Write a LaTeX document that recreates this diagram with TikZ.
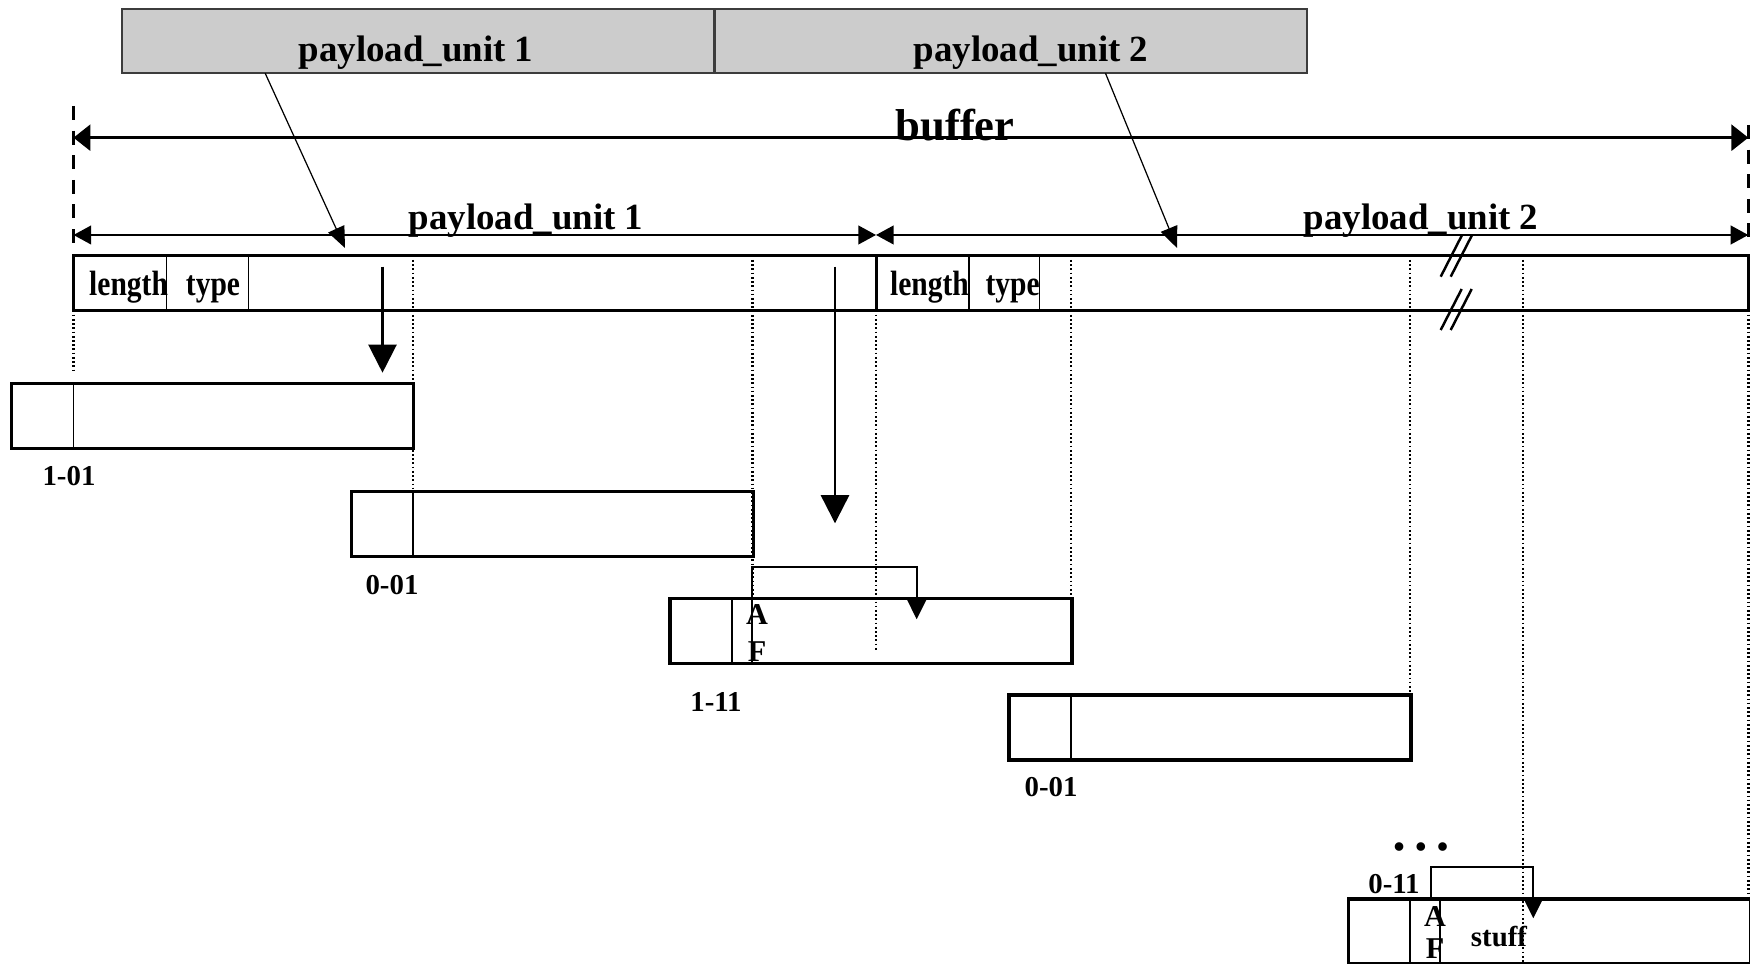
\documentclass[tikz,border=0pt]{standalone}
\usepackage{fontspec}
\setmainfont{Liberation Serif}
\usepackage{graphicx}
\usetikzlibrary{arrows.meta,calc,positioning}
\definecolor{UnitGray}{RGB}{204,204,204}
\definecolor{EdgeGray}{RGB}{60,60,60}
\newcommand{\narrowtxt}[1]{\scalebox{0.84}[1]{#1}}

\begin{document}
\begin{tikzpicture}[x=0.1mm,y=-0.1mm,
  unitbox/.style={draw=EdgeGray,fill=UnitGray,line width=0.5pt,anchor=north west,inner sep=0pt,outer sep=0pt,minimum width=59.25mm,minimum height=6.43mm},
  barbox/.style={draw,line width=0.85pt,anchor=north west,inner sep=0pt,outer sep=0pt,minimum height=5.45mm},
  pktbox/.style={draw,line width=0.9pt,anchor=north west,inner sep=0pt,outer sep=0pt,minimum width=40.2mm,minimum height=6.5mm},
  cellline/.style={line width=0.5pt},
  guideline/.style={line width=0.7pt,dash pattern=on 0.5pt off 0.7pt},
  boundline/.style={line width=1pt,dash pattern=on 4pt off 3pt},
  dimline/.style={line width=0.55pt,{Triangle[length=5pt,width=5.3pt]}-{Triangle[length=5pt,width=5.3pt]}},
  bufline/.style={line width=0.7pt,{Triangle[length=4.8pt,width=7.4pt]}-{Triangle[length=4.8pt,width=7.4pt]}},
  feedline/.style={line width=0.35pt,-{Triangle[length=6pt,width=5pt]}},
  droparrow/.style={line width=0.65pt,-{Triangle[length=8pt,width=8pt]}},
  hoparrow/.style={line width=0.55pt,-{Triangle[length=5.6pt,width=5.4pt]}},
  breakmark/.style={line width=0.7pt},
  buftext/.style={font=\bfseries\fontsize{12.7}{15}\selectfont,inner sep=0pt,anchor=base},
  unittext/.style={font=\bfseries\fontsize{10.5}{12}\selectfont,inner sep=0pt,anchor=base},
  fieldtext/.style={font=\bfseries\fontsize{10}{12}\selectfont,inner sep=0pt,anchor=base},
  tagtext/.style={font=\bfseries\fontsize{8.2}{10}\selectfont,inner sep=0pt,anchor=base},
  aftext/.style={font=\bfseries\fontsize{8.6}{10}\selectfont,inner sep=0pt,anchor=base}]
\useasboundingbox (0,0) rectangle (1750,964);

% source payload units
\node[unitbox] (gu1) at (121.7,9) {};
\node[unitbox] (gu2) at (714.7,9) {};
\node[unittext] (gu1t) at (416,61.7) {payload\_unit 1};
\node[unittext] (gu2t) at (1031,62) {payload\_unit 2};

% buffer extent
\draw[boundline] (73.5,106) -- (73.5,247);
\draw[boundline] (1748.3,125) -- (1748.3,247);
\coordinate (bufL) at (73.5,137.7);
\coordinate (bufR) at (1748.3,137.7);
\draw[bufline] (bufL) -- (bufR);
\node[buftext] (buf) at (955,141) {buffer};

\coordinate (pu1L) at (73.5,235);
\coordinate (pu1R) at (876,235);
\coordinate (pu2R) at (1748.3,235);
\draw[dimline] (pu1L) -- (pu1R);
\draw[dimline] (pu1R) -- (pu2R);
\node[unittext] (pu1t) at (526,230) {payload\_unit 1};
\node[unittext] (pu2t) at (1421,230) {payload\_unit 2};

% buffer bar
\node[barbox,minimum width=80.25mm] (bar1) at (73.5,256) {};
\node[barbox,minimum width=87.23mm] (bar2) at (876,256) {};
\foreach \x in {166.5,248.6,968.8,1039.4}
  \draw[cellline] (\x,256) -- (\x,310.5);
\node[fieldtext] (len1) at (128.6,296) {\narrowtxt{length}};
\node[fieldtext] (typ1) at (213,296) {\narrowtxt{type}};
\node[fieldtext] (len2) at (929.5,296) {\narrowtxt{length}};
\node[fieldtext] (typ2) at (1012.7,296) {\narrowtxt{type}};
\foreach \y in {0,53.3} {
  \draw[breakmark] (1440.7,276.7+\y) -- (1461.7,235.7+\y);
  \draw[breakmark] (1450.7,276.7+\y) -- (1471.7,235.7+\y);
}

% guides
\draw[guideline] (73.5,310.5) -- (73.5,370);
\draw[guideline] (413,260) -- (413,491.7);
\draw[guideline] (752.6,260) -- (752.6,598);
\draw[guideline] (876,310.5) -- (876,651.7);
\draw[guideline] (1071,260) -- (1071,598.3);
\draw[guideline] (1410,260) -- (1410,695);
\draw[guideline] (1523,260) -- (1523,964);
\draw[guideline] (1748.3,310.5) -- (1748.3,899);

% packets
\node[pktbox] (p1) at (11.5,383.3) {};
\node[pktbox] (p2) at (351.3,491.7) {};
\node[pktbox] (p3) at (670,598.3) {};
\node[pktbox] (p4) at (1009,695) {};
\node[pktbox] (p5) at (1348.3,899) {};
\foreach \p in {p1,p2,p3,p4,p5}
  \draw[cellline] ($(\p.north west)+(62,0)$) -- ($(\p.south west)+(62,0)$);
\draw[cellline] ($(p3.north west)+(82.3,0)$) -- ($(p3.south west)+(82.3,0)$);
\draw[cellline] ($(p5.north west)+(91.7,0)$) -- ($(p5.south west)+(91.7,0)$);

\node[tagtext] (t1) at (69,486) {1-01};
\node[tagtext] (t2) at (392,595) {0-01};
\node[tagtext] (t3) at (716,711.7) {1-11};
\node[tagtext] (t4) at (1051,796.7) {0-01};
\node[tagtext] (t5) at (1394,893.3) {0-11};
\node[tagtext,font=\bfseries\fontsize{9}{10}\selectfont] (dots) at (1421,858) {•\hspace{0.8pt} •\hspace{0.8pt} •};
\node[aftext] (a3) at (757,625) {A};
\node[aftext] (f3) at (757,661.7) {F};
\node[aftext] (a5) at (1435,926.7) {A};
\node[aftext] (f5) at (1435,959) {F};
\node[tagtext] (stuff) at (1499,946.5) {stuff};

% arrows
\coordinate (fd1) at (345,248);
\coordinate (fd2) at (1177,248);
\draw[feedline] ($(gu1.south west)+(143.5,0)$) -- (fd1);
\draw[feedline] ($(gu2.south west)+(390.8,0)$) -- (fd2);
\coordinate (dr1s) at (382.5,266.7);
\coordinate (dr1e) at (382.5,372.7);
\coordinate (dr2s) at (835,266.7);
\coordinate (dr2e) at (835,523.3);
\draw[droparrow] (dr1s) -- (dr1e);
\draw[droparrow] (dr2s) -- (dr2e);
\draw[hoparrow] ($(p3.north west)+(82.3,0)$) |- ++(164.4,-31.6) -- ++(0,52.6);
\draw[hoparrow] ($(p5.north west)+(82.4,0)$) |- ++(102.6,-32.3) -- ++(0,51.6);
\end{tikzpicture}
\end{document}
